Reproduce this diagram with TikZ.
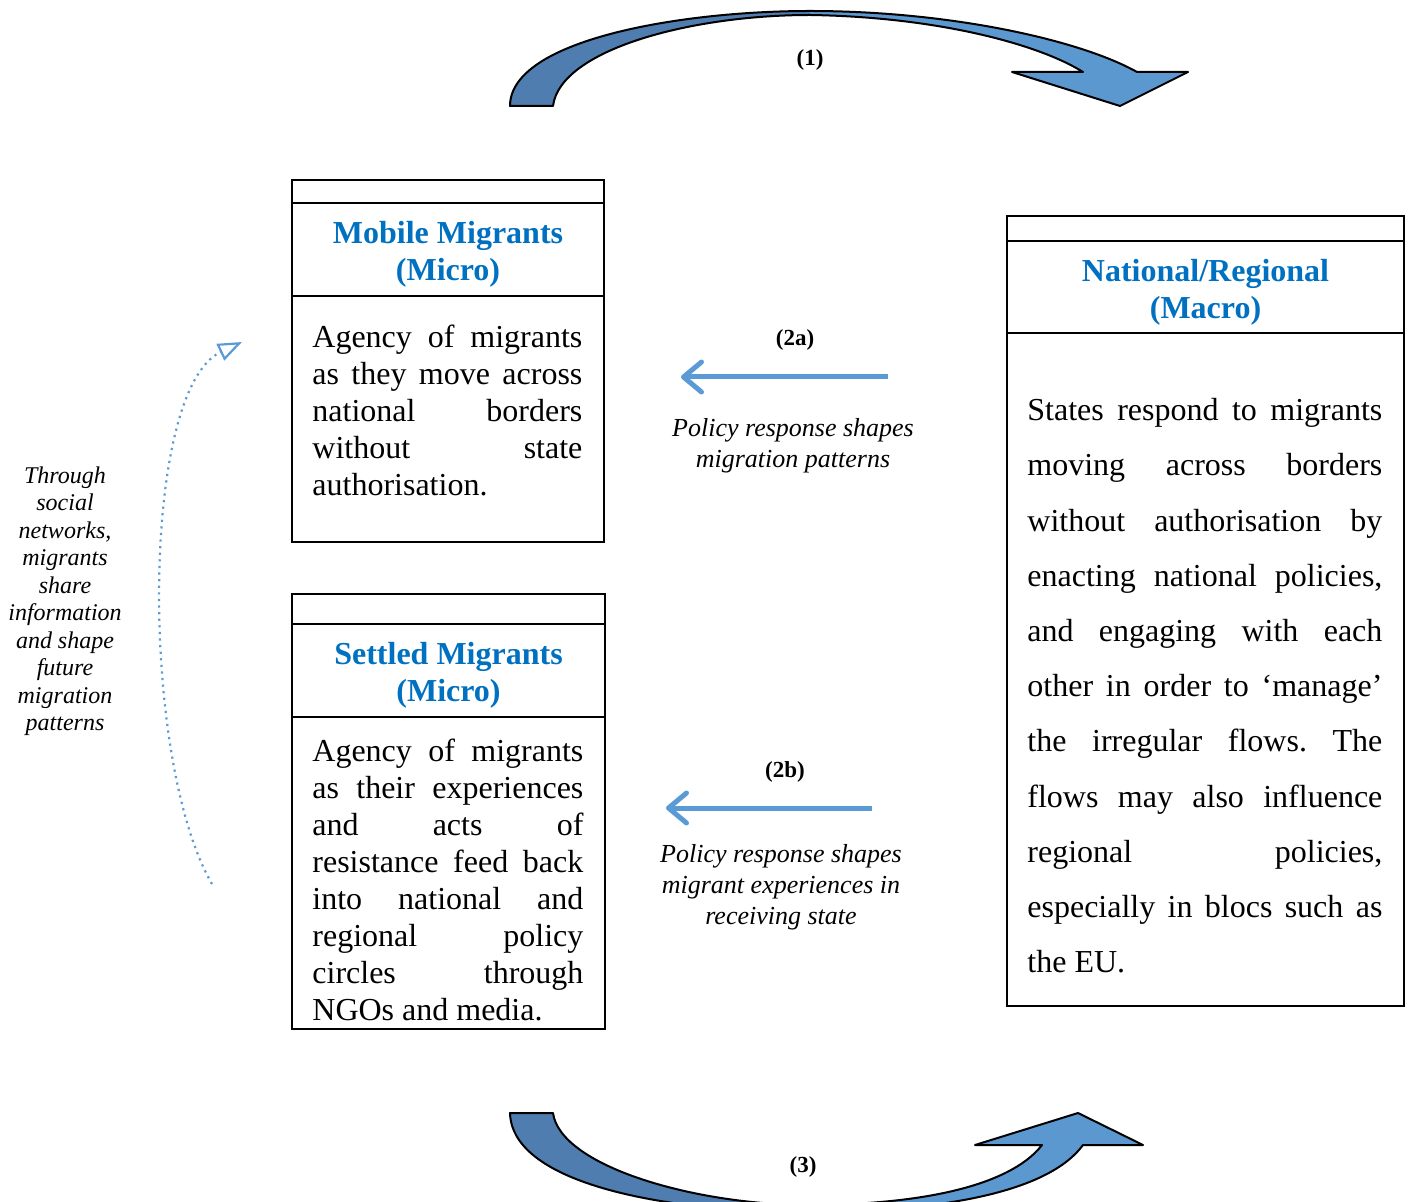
\documentclass[tikz,border=0pt]{standalone}
\usepackage{fontspec}
\setmainfont{Liberation Serif}
\usetikzlibrary{calc, arrows.meta, positioning}
\definecolor{headblue}{RGB}{0,112,192}
\definecolor{flowblue}{RGB}{91,155,213}
\definecolor{banddark}{RGB}{79,125,176}
\definecolor{bandlight}{RGB}{92,152,208}
\frenchspacing
\tikzset{
  mig/panel/.style={draw, line width=1pt, anchor=north west, inner sep=0pt},
  mig/rule/.style={line width=1pt},
  mig/head/.style={font=\fontsize{16}{18.5}\selectfont\bfseries, text=headblue, align=center},
  mig/body/.style={font=\fontsize{16}{18.5}\selectfont, align=justify, anchor=north west, inner sep=0pt},
  mig/label/.style={font=\fontsize{13}{15.5}\selectfont\itshape, align=center},
  mig/num/.style={font=\fontsize{11.5}{13}\selectfont\bfseries},
  mig/side/.style={font=\fontsize{12}{13.75}\selectfont\itshape, align=center},
  mig/policy/.style={-{Straight Barb[length=9pt, width=15pt, round]}, line width=2.5pt, flowblue},
  mig/loop/.style={-{Triangle[open, length=12pt, width=9pt]}, flowblue, line width=1.1pt, dash pattern=on 1.1pt off 2.2pt},
  mig/bandline/.style={draw=black, line width=1pt, line join=round},
}

\begin{document}
\begin{tikzpicture}[x=0.5pt, y=-0.5pt]
  \useasboundingbox (0,0) rectangle (1412,1202);

  % Boxes
  \node[mig/panel, minimum width=156pt, minimum height=181pt] (mobile) at (291,179) {};
  \node[mig/panel, minimum width=156.5pt, minimum height=217.5pt] (settled) at (291,593) {};
  \node[mig/panel, minimum width=198.5pt, minimum height=395pt] (nation) at (1006,215) {};

  \draw[mig/rule] ($(mobile.north west)+(0,24)$) -- ($(mobile.north east)+(0,24)$);
  \draw[mig/rule] ($(mobile.north west)+(0,117)$) -- ($(mobile.north east)+(0,117)$);
  \draw[mig/rule] ($(settled.north west)+(0,31)$) -- ($(settled.north east)+(0,31)$);
  \draw[mig/rule] ($(settled.north west)+(0,124)$) -- ($(settled.north east)+(0,124)$);
  \draw[mig/rule] ($(nation.north west)+(0,26)$) -- ($(nation.north east)+(0,26)$);
  \draw[mig/rule] ($(nation.north west)+(0,118)$) -- ($(nation.north east)+(0,118)$);

  % Titres
  \node[mig/head] (mobhead) at ($(mobile.north)+(0,75)$) {Mobile Migrants\\(Micro)};
  \node[mig/head] (sethead) at ($(settled.north)+(0,82)$) {Settled Migrants\\(Micro)};
  \node[mig/head] (nathead) at ($(nation.north)+(0,77)$) {National/Regional\\(Macro)};

  % Textes
  \node[mig/body, text width=135pt] (mobtext) at ($(mobile.north west)+(21,146)$)
    {Agency of migrants\linebreak as they move across\linebreak national borders\linebreak without state\linebreak authorisation.};
  \node[mig/body, text width=135.5pt] (settext) at ($(settled.north west)+(21,146)$)
    {Agency of migrants\linebreak as their experiences\linebreak and acts of\linebreak resistance feed back\linebreak into national and\linebreak regional policy\linebreak circles through\linebreak NGOs and media.};
  \node[mig/body, text width=177.5pt, font=\fontsize{16}{27.6}\selectfont] (nattext) at ($(nation.north west)+(21,183)$)
    {States respond to migrants\linebreak moving across borders\linebreak without authorisation by\linebreak enacting national policies,\linebreak and engaging with each\linebreak other in order to ‘manage’\linebreak the irregular flows. The\linebreak flows may also influence\linebreak regional policies,\linebreak especially in blocs such as\linebreak the EU.};

  % Fleches politiques
  \node[mig/num] (num2a) at (795,340) {(2a)};
  \coordinate (pa2s) at (888,377);
  \coordinate (pa2e) at (681,377);
  \draw[mig/policy] (pa2s) -- (pa2e);
  \node[mig/label] (lab2a) at (793,446) {Policy response shapes\\migration patterns};

  \node[mig/num] (num2b) at (785,772) {(2b)};
  \coordinate (pb2s) at (872,808);
  \coordinate (pb2e) at (666,808);
  \draw[mig/policy] (pb2s) -- (pb2e);
  \node[mig/label] (lab2b) at (781,887) {Policy response shapes\\migrant experiences in\\receiving state};

  % Reseaux sociaux
  \node[mig/side] (side) at (65,601) {Through\\social\\networks,\\migrants\\share\\information\\and shape\\future\\migration\\patterns};
  \coordinate (lp1) at (212,884);
  \coordinate (lp2) at (242,342);
  \draw[mig/loop] (lp1) .. controls (140,760) and (140,390) .. (lp2);

  % Fleche (1)
  \fill[banddark] (510,106) .. controls (510,40) and (680,11) .. (810,11)
    -- (810,15) .. controls (690,15) and (560,50) .. (553,106) -- cycle;
  \fill[bandlight] (810,11) .. controls (950,11) and (1080,40) .. (1137,72)
    -- (1188,72) -- (1120,106) -- (1012,72) -- (1083,72)
    .. controls (1040,45) and (940,17) .. (810,15) -- cycle;
  \draw[mig/bandline] (510,106) .. controls (510,40) and (680,11) .. (810,11)
    .. controls (950,11) and (1080,40) .. (1137,72)
    -- (1188,72) -- (1120,106) -- (1012,72) -- (1083,72)
    .. controls (1040,45) and (940,17) .. (810,15)
    .. controls (690,15) and (560,50) .. (553,106) -- cycle;
  \node[mig/num] (num1) at (810,60) {(1)};

  % Fleche (3)
  \fill[banddark] (510,1113) .. controls (512,1185) and (670,1212) .. (805,1212)
    -- (805,1205) .. controls (690,1204) and (560,1165) .. (553,1113) -- cycle;
  \fill[bandlight] (805,1212) .. controls (950,1212) and (1050,1190) .. (1083,1145)
    -- (1143,1145) -- (1078,1113) -- (975,1145) -- (1042,1145)
    .. controls (1015,1180) and (940,1205) .. (805,1205) -- cycle;
  \draw[mig/bandline] (510,1113) .. controls (512,1185) and (670,1212) .. (805,1212)
    .. controls (950,1212) and (1050,1190) .. (1083,1145)
    -- (1143,1145) -- (1078,1113) -- (975,1145) -- (1042,1145)
    .. controls (1015,1180) and (940,1205) .. (805,1205)
    .. controls (690,1204) and (560,1165) .. (553,1113) -- cycle;
  \node[mig/num] (num3) at (803,1167) {(3)};

\end{tikzpicture}
\end{document}
